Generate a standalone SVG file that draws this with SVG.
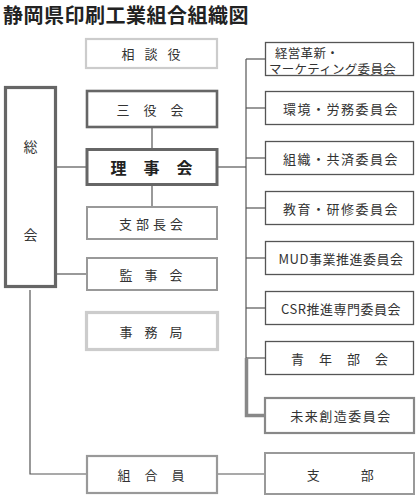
<svg xmlns="http://www.w3.org/2000/svg" width="420" height="500" viewBox="0 0 420 500">
<style>
text{font-family:"Noto Sans CJK JP","Liberation Sans",sans-serif;fill:#333;}
.t{font-size:13px;text-anchor:middle;dominant-baseline:central;letter-spacing:1px;}
.r{font-size:13px;text-anchor:middle;dominant-baseline:central;letter-spacing:1.5px;}
.box{fill:#fff;}
.c{stroke:#555;stroke-width:1.2;fill:none;}
</style>
<rect width="420" height="500" fill="#fff"/>
<text x="3" y="23" style="font-size:20px;font-weight:bold;letter-spacing:0.5px;fill:#222">静岡県印刷工業組合組織図</text>
<g id="connectors">
<line class="c" x1="57" y1="167" x2="86" y2="167"/>
<line class="c" x1="152" y1="127" x2="152" y2="148"/>
<line class="c" x1="152" y1="185" x2="152" y2="206"/>
<line class="c" x1="57" y1="274" x2="86" y2="274"/>
<polyline class="c" points="30,290 30,474 86,474"/>
<line class="c" x1="218" y1="474" x2="265" y2="474"/>
<line class="c" x1="218" y1="167" x2="246" y2="167"/>
<line class="c" x1="246" y1="59" x2="246" y2="358"/>
<line class="c" x1="246" y1="59" x2="265" y2="59"/>
<line class="c" x1="246" y1="108" x2="265" y2="108"/>
<line class="c" x1="246" y1="158" x2="265" y2="158"/>
<line class="c" x1="246" y1="208" x2="265" y2="208"/>
<line class="c" x1="246" y1="258" x2="265" y2="258"/>
<line class="c" x1="246" y1="308" x2="265" y2="308"/>
<line class="c" x1="246" y1="358" x2="265" y2="358"/>
<polyline points="246.5,358 246.5,415.5 265,415.5" fill="none" stroke="#888" stroke-width="3.5"/>
</g>
<g id="soukai"><rect class="box" x="5.5" y="87.5" width="50" height="199" stroke="#666" stroke-width="3.2"/><text class="t" x="31" y="146" style="font-size:14px">総</text><text class="t" x="31" y="234" style="font-size:14px">会</text></g>
<g id="soudanyaku"><rect class="box" x="86" y="39" width="131" height="29" stroke="#ccc" stroke-width="2.2"/><text class="t" x="156" y="53.5" style="letter-spacing:10px">相談役</text></g>
<g id="sanyakukai"><rect class="box" x="87" y="91" width="130" height="36" stroke="#666" stroke-width="2.6"/><text class="t" x="157" y="109" style="letter-spacing:14px">三役会</text></g>
<g id="rijikai"><rect class="box" x="87" y="149.5" width="130" height="35" stroke="#666" stroke-width="3"/><text class="t" x="160" y="167" style="font-size:16px;font-weight:bold;letter-spacing:17px;fill:#222">理事会</text></g>
<g id="shibuchoukai"><rect class="box" x="87" y="207" width="130" height="32" stroke="#999" stroke-width="2"/><text class="t" x="153" y="223" style="letter-spacing:4px">支部長会</text></g>
<g id="kanjikai"><rect class="box" x="87" y="258" width="130" height="32" stroke="#999" stroke-width="2"/><text class="t" x="157" y="274" style="letter-spacing:12px">監事会</text></g>
<g id="jimukyoku"><rect class="box" x="86.5" y="312.5" width="131" height="37" stroke="#ccc" stroke-width="3.2"/><text class="t" x="157" y="331" style="letter-spacing:12px">事務局</text></g>
<g id="kumiaiin"><rect class="box" x="87" y="456" width="130" height="37" stroke="#999" stroke-width="2.2"/><text class="t" x="158" y="474" style="letter-spacing:14px">組合員</text></g>
<g id="r1"><rect class="box" x="265.5" y="42.5" width="148" height="33" stroke="#555" stroke-width="1.3"/><text style="font-size:12.5px;dominant-baseline:central;letter-spacing:0.3px"><tspan x="275" y="51.5">経営革新・</tspan><tspan x="269" y="67.5">マーケティング委員会</tspan></text></g>
<g id="r2"><rect class="box" x="265.5" y="91.5" width="148" height="33" stroke="#555" stroke-width="1.3"/><text class="r" x="341" y="108">環境・労務委員会</text></g>
<g id="r3"><rect class="box" x="265.5" y="141.5" width="148" height="33" stroke="#555" stroke-width="1.3"/><text class="r" x="341" y="158">組織・共済委員会</text></g>
<g id="r4"><rect class="box" x="265.5" y="191.5" width="148" height="33" stroke="#555" stroke-width="1.3"/><text class="r" x="341" y="208">教育・研修委員会</text></g>
<g id="r5"><rect class="box" x="265.5" y="241.5" width="148" height="33" stroke="#555" stroke-width="1.3"/><text class="r" x="341" y="258" style="letter-spacing:0.5px">MUD事業推進委員会</text></g>
<g id="r6"><rect class="box" x="265.5" y="291.5" width="148" height="33" stroke="#555" stroke-width="1.3"/><text class="r" x="341" y="308" style="letter-spacing:0.5px">CSR推進専門委員会</text></g>
<g id="r7"><rect class="box" x="265.5" y="341.5" width="148" height="33" stroke="#555" stroke-width="1.3"/><text class="r" x="347" y="358" style="letter-spacing:15px">青年部会</text></g>
<g id="r8"><rect class="box" x="265" y="398" width="149" height="35" stroke="#888" stroke-width="2.2"/><text class="r" x="341" y="415">未来創造委員会</text></g>
<g id="shibu"><rect class="box" x="265" y="453" width="149" height="41" stroke="#999" stroke-width="2"/><text class="r" x="314" y="474">支</text><text class="r" x="368" y="474">部</text></g>
</svg>
